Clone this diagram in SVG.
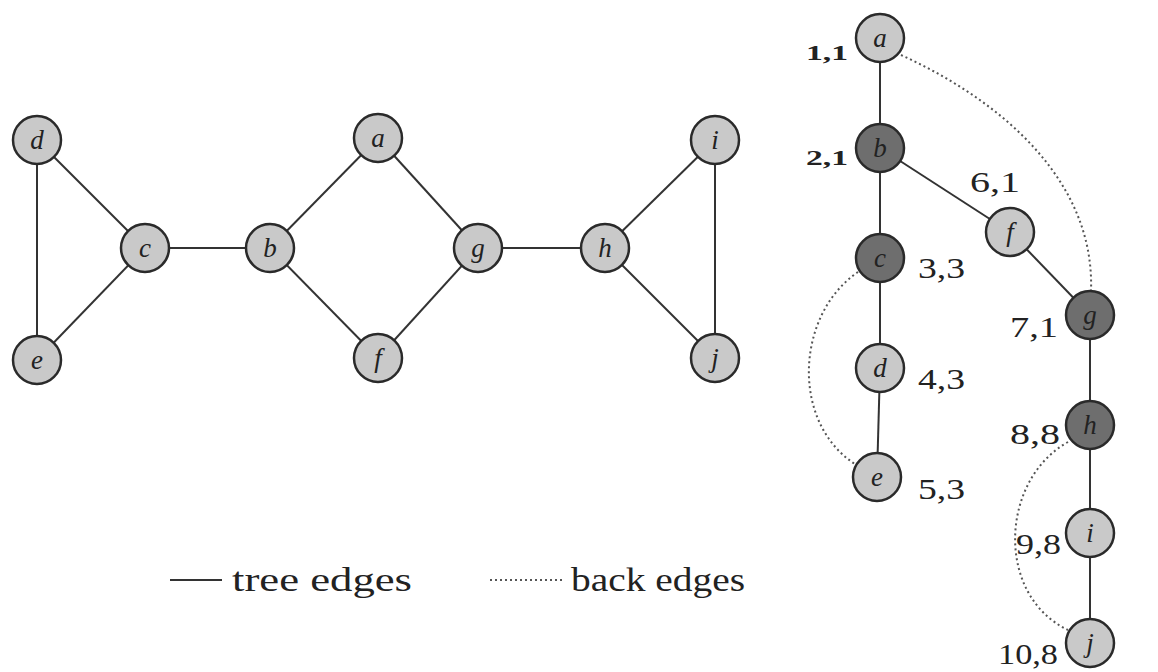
<svg xmlns="http://www.w3.org/2000/svg" width="1158" height="672" viewBox="0 0 1158 672">
<style>
.n circle{stroke:#2a2a2a;stroke-width:2.5}
.l circle{fill:#c9c9c9}
.d circle{fill:#6e6e6e}
.n text{font-family:"Liberation Serif",serif;font-style:italic;font-size:27px;fill:#222;text-anchor:middle}
.e{stroke:#333;stroke-width:2;fill:none}
.b{stroke:#555;stroke-width:2;fill:none;stroke-dasharray:2 3}
.lab{font-family:"Liberation Serif",serif;font-size:29px;fill:#222}
.sm{font-weight:bold;font-size:22px}
.leg{font-size:34px}
</style>
<rect width="1158" height="672" fill="#fff"/>
<g id="connectors">
<line class="e" x1="37" y1="140" x2="37" y2="360"/>
<line class="e" x1="37" y1="140" x2="145" y2="248"/>
<line class="e" x1="37" y1="360" x2="145" y2="248"/>
<line class="e" x1="145" y1="248" x2="270" y2="248"/>
<line class="e" x1="270" y1="248" x2="378" y2="138"/>
<line class="e" x1="270" y1="248" x2="378" y2="358"/>
<line class="e" x1="378" y1="138" x2="478" y2="248"/>
<line class="e" x1="378" y1="358" x2="478" y2="248"/>
<line class="e" x1="478" y1="248" x2="605" y2="248"/>
<line class="e" x1="605" y1="248" x2="715" y2="140"/>
<line class="e" x1="605" y1="248" x2="715" y2="358"/>
<line class="e" x1="715" y1="140" x2="715" y2="358"/>
<line class="e" x1="880" y1="38" x2="880" y2="368"/>
<line class="e" x1="880" y1="368" x2="877" y2="477"/>
<line class="e" x1="880" y1="148" x2="1010" y2="232"/>
<line class="e" x1="1010" y1="232" x2="1090" y2="315"/>
<line class="e" x1="1090" y1="315" x2="1090" y2="643"/>
<path class="b" d="M901,55 C1000,100 1095,180 1091,291"/>
<path class="b" d="M858,272 C795,315 790,425 858,466"/>
<path class="b" d="M1068,442 C1000,480 995,595 1068,630"/>
<line class="e" x1="170" y1="580" x2="222" y2="580"/>
<line class="b" x1="490" y1="580" x2="563" y2="580"/>
</g>
<g id="node-d" class="n l"><circle cx="37" cy="140" r="24"/><text x="37" y="149">d</text></g>
<g id="node-e" class="n l"><circle cx="37" cy="360" r="24"/><text x="37" y="369">e</text></g>
<g id="node-c" class="n l"><circle cx="145" cy="248" r="24"/><text x="145" y="257">c</text></g>
<g id="node-b" class="n l"><circle cx="270" cy="248" r="24"/><text x="270" y="257">b</text></g>
<g id="node-a" class="n l"><circle cx="378" cy="138" r="24"/><text x="378" y="147">a</text></g>
<g id="node-f" class="n l"><circle cx="378" cy="358" r="24"/><text x="378" y="367">f</text></g>
<g id="node-g" class="n l"><circle cx="478" cy="248" r="24"/><text x="478" y="257">g</text></g>
<g id="node-h" class="n l"><circle cx="605" cy="248" r="24"/><text x="605" y="257">h</text></g>
<g id="node-i" class="n l"><circle cx="715" cy="140" r="24"/><text x="715" y="149">i</text></g>
<g id="node-j" class="n l"><circle cx="715" cy="358" r="24"/><text x="715" y="367">j</text></g>
<g id="tree-a" class="n l"><circle cx="880" cy="38" r="24"/><text x="880" y="47">a</text></g>
<g id="tree-b" class="n d"><circle cx="880" cy="148" r="24"/><text x="880" y="157">b</text></g>
<g id="tree-c" class="n d"><circle cx="880" cy="258" r="24"/><text x="880" y="267">c</text></g>
<g id="tree-d" class="n l"><circle cx="880" cy="368" r="24"/><text x="880" y="377">d</text></g>
<g id="tree-e" class="n l"><circle cx="877" cy="477" r="24"/><text x="877" y="486">e</text></g>
<g id="tree-f" class="n l"><circle cx="1010" cy="232" r="24"/><text x="1010" y="241">f</text></g>
<g id="tree-g" class="n d"><circle cx="1090" cy="315" r="24"/><text x="1090" y="324">g</text></g>
<g id="tree-h" class="n d"><circle cx="1090" cy="425" r="24"/><text x="1090" y="434">h</text></g>
<g id="tree-i" class="n l"><circle cx="1090" cy="533" r="24"/><text x="1090" y="542">i</text></g>
<g id="tree-j" class="n l"><circle cx="1090" cy="643" r="24"/><text x="1090" y="652">j</text></g>
<g id="labels">
<text class="lab sm" x="806" y="60" textLength="42" lengthAdjust="spacingAndGlyphs">1,1</text>
<text class="lab sm" x="806" y="165" textLength="42" lengthAdjust="spacingAndGlyphs">2,1</text>
<text class="lab" x="970" y="192" textLength="50" lengthAdjust="spacingAndGlyphs">6,1</text>
<text class="lab" x="918" y="278" textLength="47" lengthAdjust="spacingAndGlyphs">3,3</text>
<text class="lab" x="1010" y="337" textLength="48" lengthAdjust="spacingAndGlyphs">7,1</text>
<text class="lab" x="918" y="389" textLength="47" lengthAdjust="spacingAndGlyphs">4,3</text>
<text class="lab" x="918" y="499" textLength="47" lengthAdjust="spacingAndGlyphs">5,3</text>
<text class="lab" x="1010" y="444" textLength="50" lengthAdjust="spacingAndGlyphs">8,8</text>
<text class="lab" x="1016" y="554" textLength="45" lengthAdjust="spacingAndGlyphs">9,8</text>
<text class="lab" x="998" y="664" textLength="60" lengthAdjust="spacingAndGlyphs">10,8</text>
<text class="lab leg" x="232" y="591" textLength="180" lengthAdjust="spacingAndGlyphs">tree edges</text>
<text class="lab leg" x="571" y="591" textLength="174" lengthAdjust="spacingAndGlyphs">back edges</text>
</g>
</svg>
